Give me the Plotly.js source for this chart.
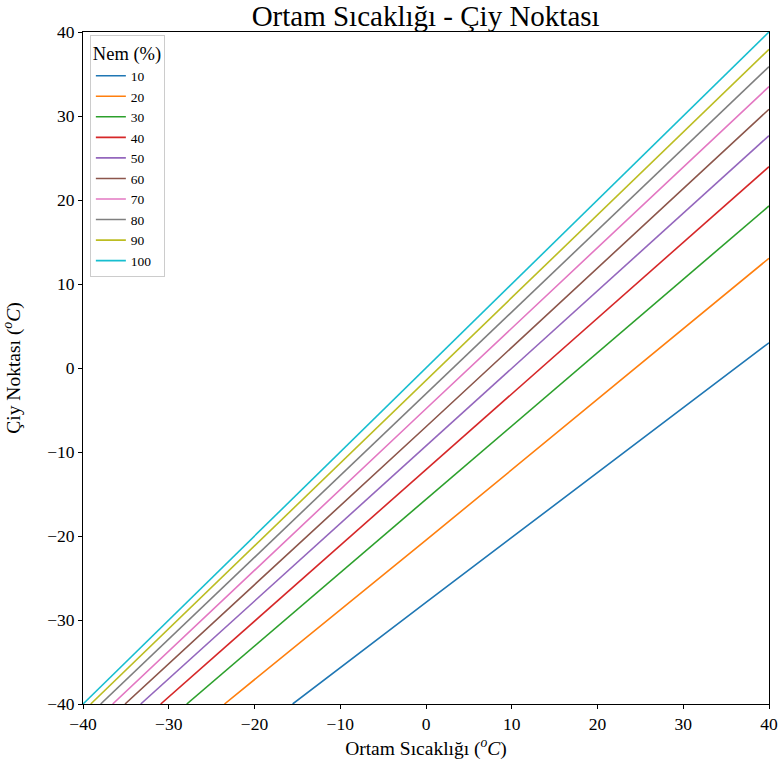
<!DOCTYPE html>
<html>
<head>
<meta charset="utf-8">
<script src="https://cdn.plot.ly/plotly-3.0.1.min.js"></script>
<style>body{margin:0;padding:0;background:#fff}#chart{width:781px;height:766px}</style>
</head>
<body>
<div id="chart"></div>
<script>
// Humidity levels (%)
const humidity = [10, 20, 30, 40, 50, 60, 70, 80, 90, 100];
// Ambient temperature points for each series (start where line enters at -40, then 0 and 40)
const tempStart = [-15.55, -23.5, -27.9, -30.94, -33.27, -35.1, -36.54, -37.94, -39.1, -40];
const tempMid = [0, 0, 0, 0, 0, 0, 0, 0, 0, 0];
const tempEnd = [40, 40, 40, 40, 40, 40, 40, 40, 40, 40];
// Dew point values at those temperatures
const dewStart = [-40, -40, -40, -40, -40, -40, -40, -40, -40, -40];
const dewMid = [-27.9, -20.5, -15.6, -12.1, -9.29, -6.99, -4.85, -3.06, -1.51, 0];
const dewEnd = [3.0, 13.06, 19.29, 23.97, 27.66, 30.8, 33.5, 35.87, 37.94, 40];
const colors = ['#1f77b4','#ff7f0e','#2ca02c','#d62728','#9467bd','#8c564b','#e377c2','#7f7f7f','#bcbd22','#17becf'];

const font = 'Liberation Serif, Times New Roman, serif';
const traces = humidity.map((h, i) => ({
  x: [tempStart[i], tempMid[i], tempEnd[i]],
  y: [dewStart[i], dewMid[i], dewEnd[i]],
  mode: 'lines',
  name: String(h),
  line: {color: colors[i], width: 1.6}
}));

const axisCommon = {
  range: [-40, 40],
  tickvals: [-40, -30, -20, -10, 0, 10, 20, 30, 40],
  showgrid: false,
  zeroline: false,
  showline: true,
  linecolor: 'black',
  linewidth: 1,
  mirror: true,
  ticks: 'outside',
  ticklen: 4,
  tickcolor: 'black',
  tickfont: {family: font, size: 17.5, color: 'black'}
};

const layout = {
  width: 781,
  height: 766,
  margin: {l: 83, r: 12, t: 32, b: 62},
  paper_bgcolor: 'white',
  plot_bgcolor: 'white',
  font: {family: font, color: 'black'},
  title: {text: 'Ortam Sıcaklığı - Çiy Noktası', font: {family: font, size: 29, color: 'black'}, x: 0.545, xanchor: 'center', y: 0.979, yanchor: 'middle'},
  xaxis: Object.assign({}, axisCommon, {title: {text: 'Ortam Sıcaklığı (<sup><i>o</i></sup><i>C</i>)', font: {family: font, size: 19.5}, standoff: 8}}),
  yaxis: Object.assign({}, axisCommon, {title: {text: 'Çiy Noktası (<sup><i>o</i></sup><i>C</i>)', font: {family: font, size: 19.5}, standoff: 24}}),
  showlegend: true,
  legend: {
    x: 0.01, y: 0.995, xanchor: 'left', yanchor: 'top',
    bgcolor: 'white', bordercolor: '#cccccc', borderwidth: 1,
    font: {family: font, size: 13.5, color: 'black'},
    title: {text: 'Nem (%)', font: {family: font, size: 18.5}, side: 'top'},
    tracegroupgap: 0,
    itemwidth: 30
  }
};

Plotly.newPlot('chart', traces, layout, {displayModeBar: false, staticPlot: true});
</script>
</body>
</html>
